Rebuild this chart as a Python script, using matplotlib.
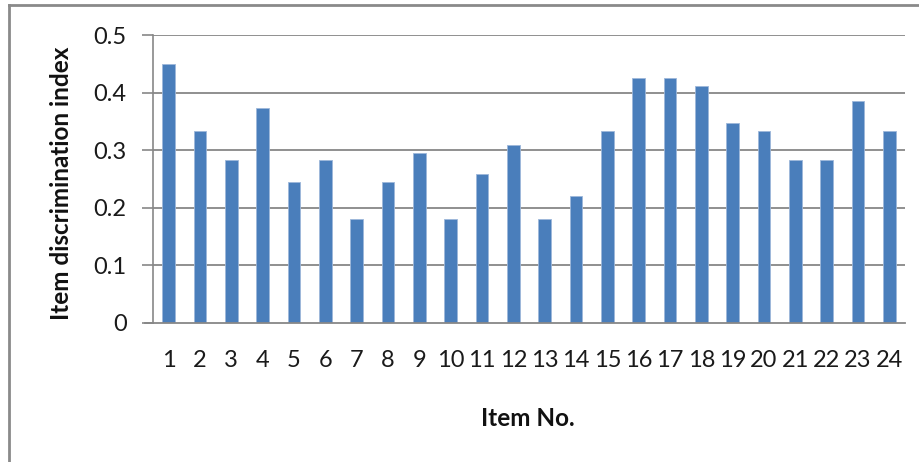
import matplotlib
matplotlib.use("Agg")
import matplotlib.pyplot as plt
from matplotlib.lines import Line2D

items = [str(i) for i in range(1, 25)]
discrimination = [0.450, 0.333, 0.282, 0.374, 0.244, 0.282, 0.180, 0.244,
                  0.295, 0.180, 0.258, 0.309, 0.180, 0.220, 0.333, 0.425,
                  0.425, 0.412, 0.347, 0.333, 0.282, 0.282, 0.386, 0.333]
yticks = [0, 0.1, 0.2, 0.3, 0.4, 0.5]
ytick_labels = ["0", "0.1", "0.2", "0.3", "0.4", "0.5"]

plt.rcParams['font.family'] = ['Lato', 'DejaVu Sans']

W, H = 920, 462
fig = plt.figure(figsize=(W / 100, H / 100), dpi=100)
ax = fig.add_axes([153 / W, 1 - 322.7 / H, (905 - 153) / W, (322.7 - 35) / H])

bar_color = "#4A7EBB"
grid_color = "#878787"
x = list(range(len(items)))
ax.bar(x, discrimination, width=0.4, color=bar_color,
       edgecolor="#9DB7DA", linewidth=0.6, zorder=3)

ax.set_xlim(-0.5, len(items) - 0.5)
ax.set_ylim(0, 0.5)
ax.set_yticks(yticks)
ax.set_yticklabels(ytick_labels, fontsize=17, color="#1a1a1a")
ax.set_xticks(x)
ax.set_xticklabels(items, fontsize=17, color="#1a1a1a")
ax.tick_params(axis="x", length=0, pad=20)
ax.tick_params(axis="y", length=8, width=1.2, color=grid_color, pad=11)

for v in yticks[1:]:
    ax.axhline(v, color=grid_color, linewidth=1.3, zorder=1)

for s in ["top", "right"]:
    ax.spines[s].set_visible(False)
ax.spines["left"].set_color(grid_color)
ax.spines["left"].set_linewidth(1.2)
ax.spines["bottom"].set_color(grid_color)
ax.spines["bottom"].set_linewidth(1.3)
ax.spines["bottom"].set_zorder(4)
# extend baseline to the left like the y tick marks
ax.plot([-0.5 - 8 / 31.33, -0.5], [0, 0], color=grid_color, lw=1.3,
        clip_on=False, zorder=4)

fig.text(62 / W, 1 - 183 / H, "Item discrimination index", rotation=90,
         ha="center", va="center", fontsize=17.5, fontweight="bold", color="#111111")
fig.text(528 / W, 1 - 418 / H, "Item No.", ha="center", va="center",
         fontsize=17.5, fontweight="bold", color="#111111")

# outer chart frame (left and top edges)
fig.add_artist(Line2D([9 / W, 9 / W], [0, 1 - 5 / H], transform=fig.transFigure,
                      color="#8A8A8A", lw=2))
fig.add_artist(Line2D([9 / W, 1], [1 - 5 / H, 1 - 5 / H], transform=fig.transFigure,
                      color="#8A8A8A", lw=2))

fig.savefig("out.png", dpi=100)
